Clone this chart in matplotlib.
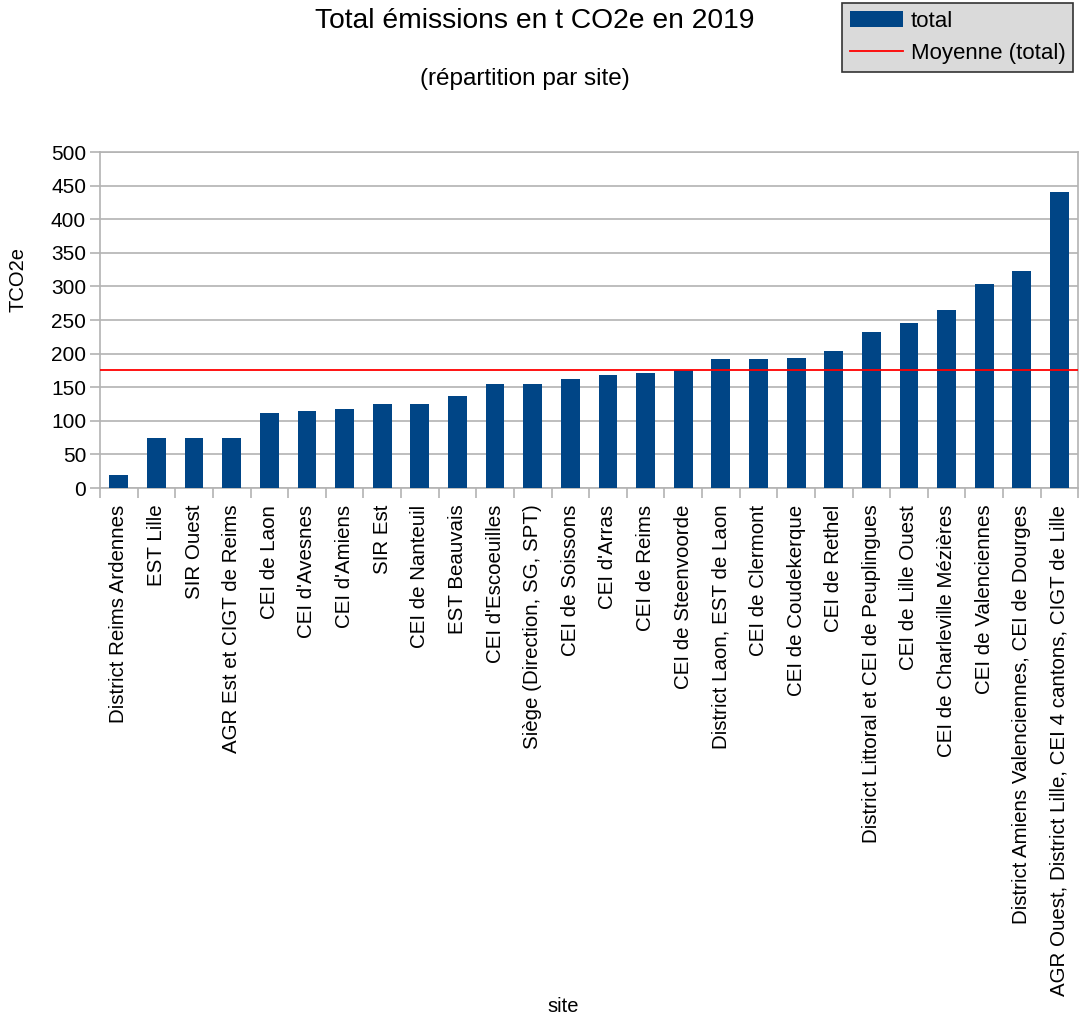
import numpy as np
import matplotlib
matplotlib.use('Agg')
import matplotlib.pyplot as plt
from matplotlib.ticker import FixedLocator

sites = [
    'District Reims Ardennes', 'EST Lille', 'SIR Ouest', 'AGR Est et CIGT de Reims',
    'CEI de Laon', "CEI d'Avesnes", "CEI d'Amiens", 'SIR Est', 'CEI de Nanteuil',
    'EST Beauvais', "CEI d'Escoeuilles", 'Siège (Direction, SG, SPT)', 'CEI de Soissons',
    "CEI d'Arras", 'CEI de Reims', 'CEI de Steenvoorde', 'District Laon, EST de Laon',
    'CEI de Clermont', 'CEI de Coudekerque', 'CEI de Rethel',
    'District Littoral et CEI de Peuplingues', 'CEI de Lille Ouest',
    'CEI de Charleville Mézières', 'CEI de Valenciennes',
    'District Amiens Valenciennes, CEI de Dourges',
    'AGR Ouest, District Lille, CEI 4 cantons, CIGT de Lille',
]
total = [20, 74, 74, 74, 112, 115, 117, 125, 125, 137, 155, 155, 163, 168, 171,
         176, 192, 192, 194, 204, 232, 245, 265, 303, 323, 441]
moyenne = 175

plt.rcParams['font.family'] = ['Liberation Sans', 'DejaVu Sans']

fig = plt.figure(figsize=(10.81, 10.21), dpi=100)
ax = fig.add_axes([0.0925, 0.522, 0.905, 0.329])

x = np.arange(len(sites))
bars = ax.bar(x, total, width=0.5, color='#004586', label='total', zorder=3)
line = ax.axhline(moyenne, color='#ff0000', lw=1.3, label='Moyenne (total)', zorder=4)

ax.set_xlim(-0.5, len(sites) - 0.5)
ax.set_ylim(0, 500)
ax.set_yticks(np.arange(0, 501, 50))
ax.yaxis.grid(True, color='#b3b3b3', lw=1.2, zorder=0)

# labels centred on bars, tick marks between categories
ax.set_xticks(x)
ax.set_xticklabels(sites, rotation=90, fontsize=14.8)
ax.tick_params(axis='x', which='major', length=0, pad=12)
ax.xaxis.set_minor_locator(FixedLocator(np.arange(-0.5, len(sites), 1)))
ax.tick_params(axis='x', which='minor', length=7, color='#b3b3b3', width=1.2)
ax.tick_params(axis='y', length=7, color='#b3b3b3', width=1.2, labelsize=15, pad=3)

for s in ax.spines.values():
    s.set_color('#b3b3b3')
    s.set_linewidth(1.2)

ax.set_ylabel('TCO2e', fontsize=14.5)
ax.yaxis.set_label_coords(-0.0746, 0.62)
fig.text(0.521, 0.014, 'site', fontsize=14.5, ha='center', va='center')

fig.text(0.495, 0.979, 'Total émissions en t CO2e en 2019', fontsize=20.3, ha='center', va='center')
fig.text(0.486, 0.923, '(répartition par site)', fontsize=17.5, ha='center', va='center')

leg = fig.legend(handles=[bars, line], loc='upper right', bbox_to_anchor=(0.993, 0.997),
                 borderaxespad=0, fontsize=16, fancybox=False, framealpha=1,
                 facecolor='#dadada', edgecolor='#333333', handlelength=2.4,
                 borderpad=0.35, labelspacing=0.5, handletextpad=0.35)
leg.get_frame().set_linewidth(1.2)

fig.savefig('out.png', dpi=100)
